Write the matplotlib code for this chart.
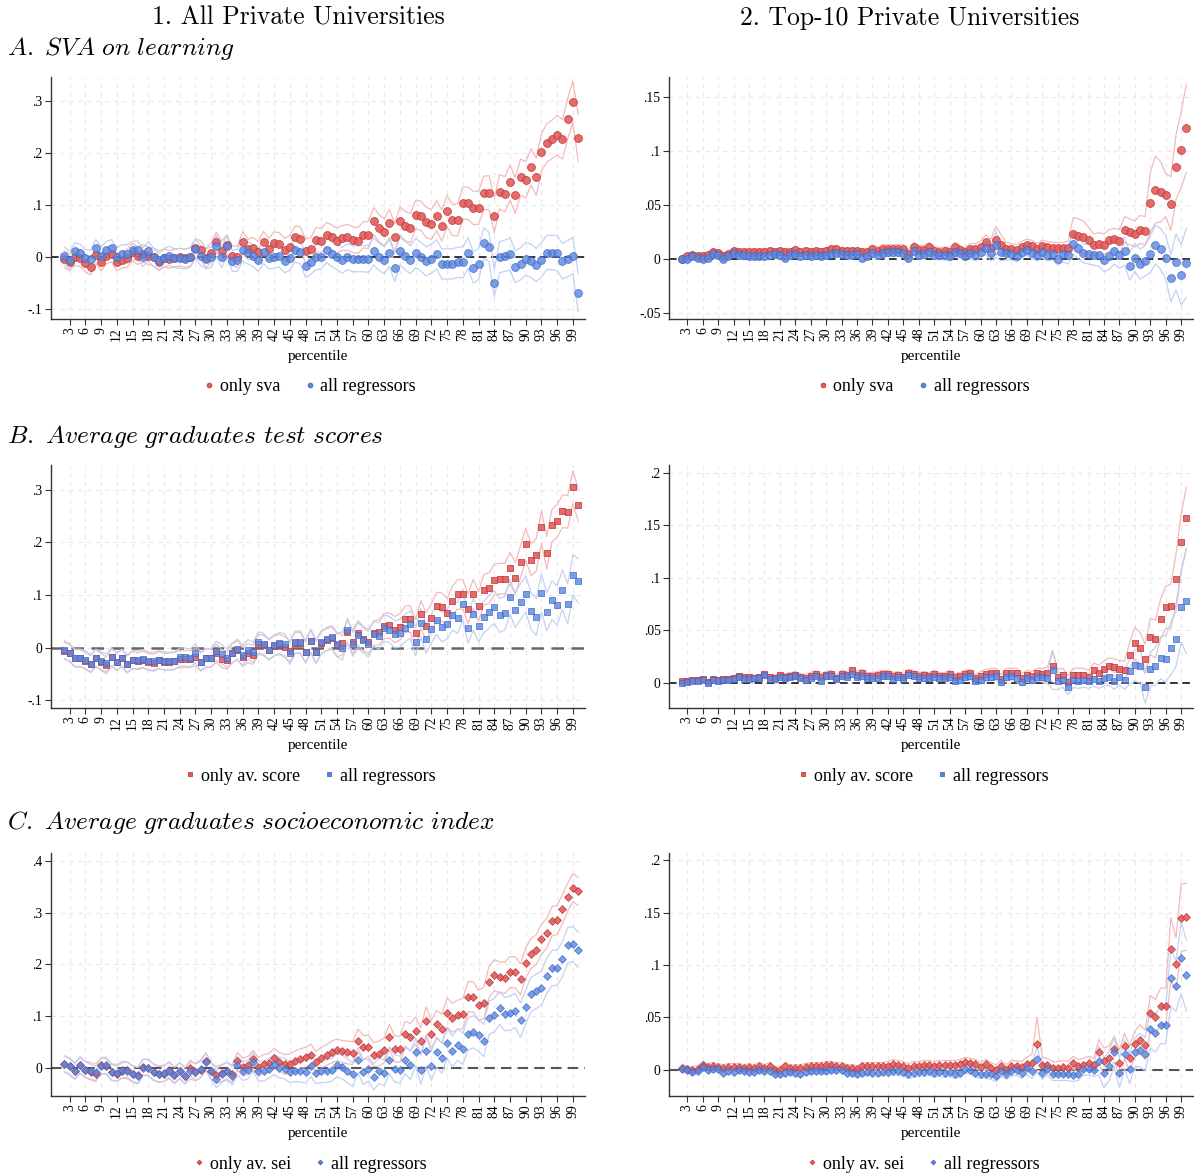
import matplotlib
matplotlib.use('Agg')
import matplotlib.pyplot as plt
from matplotlib.lines import Line2D
from matplotlib.ticker import FuncFormatter

plt.rcParams['font.family'] = ['Liberation Serif', 'DejaVu Serif']
plt.rcParams['mathtext.fontset'] = 'cm'
plt.rcParams['axes.unicode_minus'] = False

# percentiles 2..100
pct = list(range(2, 101))

# ---- A. SVA on learning ----
a1_sva = [
    -0.004, -0.01, 0.0, -0.002, -0.012, -0.018, 0.004, -0.01, 0.003, 0.007,
    -0.01, -0.005, -0.002, 0.01, 0.003, 0.007, 0.003, 0.0, -0.009, -0.002,
    -0.004, -0.002, 0.0, -0.002, 0.0, 0.017, 0.014, -0.002, 0.009, 0.029,
    0.012, 0.024, 0.003, 0.001, 0.03, 0.015, 0.018, 0.01, 0.029, 0.015,
    0.028, 0.026, 0.014, 0.02, 0.038, 0.036, 0.012, 0.015, 0.034, 0.032,
    0.043, 0.038, 0.032, 0.037, 0.038, 0.034, 0.032, 0.043, 0.043, 0.07,
    0.056, 0.048, 0.065, 0.038, 0.07, 0.06, 0.056, 0.082, 0.08, 0.067,
    0.063, 0.08, 0.061, 0.089, 0.072, 0.072, 0.104, 0.104, 0.095, 0.095,
    0.124, 0.124, 0.08, 0.126, 0.121, 0.144, 0.119, 0.154, 0.149, 0.174,
    0.155, 0.202, 0.22, 0.227, 0.235, 0.227, 0.267, 0.299, 0.23]
a1_all = [
    0.003, -0.006, 0.011, 0.008, -0.002, -0.004, 0.017, 0.003, 0.013, 0.017,
    0.001, 0.006, 0.006, 0.013, 0.013, 0.0, 0.012, 0.0, -0.005, -0.002,
    0.003, -0.002, -0.002, -0.004, 0.0, 0.016, 0.003, -0.003, 0.0, 0.022,
    0.0, 0.022, -0.007, -0.006, 0.014, 0.008, 0.003, -0.006, 0.01, -0.001,
    0.001, 0.003, -0.008, -0.002, 0.014, 0.01, -0.016, -0.01, 0.0, 0.001,
    0.014, 0.006, 0.0, -0.006, 0.001, -0.003, -0.003, -0.003, -0.003, 0.011,
    0.001, -0.006, 0.008, -0.02, 0.012, 0.003, -0.005, 0.008, 0.001, -0.008,
    -0.003, 0.006, -0.013, -0.013, -0.013, -0.01, -0.01, 0.008, -0.02, -0.013,
    0.027, 0.02, -0.05, 0.0, 0.003, 0.006, -0.018, -0.013, -0.003, -0.007,
    -0.015, -0.005, 0.009, 0.009, 0.008, -0.008, -0.003, 0.003, -0.068]
a1_sva_hw = [
    .016, .016, .016, .016, .016, .016, .016, .016, .016, .016,
    .016, .016, .017, .017, .017, .017, .017, .017, .017, .017,
    .017, .017, .017, .017, .018, .018, .018, .018, .019, .019,
    .019, .019, .019, .020, .020, .020, .020, .020, .021, .021,
    .021, .021, .022, .022, .022, .022, .023, .023, .023, .023,
    .024, .024, .024, .024, .025, .025, .025, .025, .026, .026,
    .026, .026, .027, .027, .027, .028, .028, .028, .028, .029,
    .029, .029, .030, .030, .030, .031, .031, .031, .032, .032,
    .032, .033, .033, .033, .034, .034, .034, .035, .035, .035,
    .036, .036, .037, .037, .038, .038, .039, .040, .045]
a1_all_hw = [
    .017, .017, .017, .017, .017, .017, .017, .017, .017, .017,
    .017, .018, .018, .018, .018, .018, .018, .018, .018, .018,
    .018, .018, .019, .019, .019, .019, .019, .019, .020, .020,
    .020, .020, .020, .021, .021, .021, .021, .021, .022, .022,
    .022, .022, .022, .023, .023, .023, .023, .023, .024, .024,
    .024, .024, .024, .025, .025, .025, .025, .025, .026, .026,
    .026, .026, .026, .027, .027, .027, .027, .028, .028, .028,
    .028, .028, .029, .029, .029, .029, .030, .030, .030, .030,
    .030, .028, .026, .030, .030, .031, .031, .031, .032, .032,
    .032, .033, .033, .033, .034, .034, .035, .035, .037]

a2_sva = [
    0.0, 0.002, 0.003, 0.002, 0.002, 0.003, 0.006, 0.005, 0.002, 0.004,
    0.007, 0.006, 0.006, 0.006, 0.006, 0.006, 0.006, 0.007, 0.006, 0.007,
    0.006, 0.006, 0.008, 0.006, 0.007, 0.006, 0.007, 0.006, 0.007, 0.009,
    0.009, 0.007, 0.007, 0.007, 0.007, 0.006, 0.006, 0.009, 0.007, 0.009,
    0.009, 0.009, 0.009, 0.009, 0.004, 0.011, 0.008, 0.008, 0.011, 0.007,
    0.006, 0.007, 0.006, 0.011, 0.008, 0.006, 0.009, 0.009, 0.011, 0.015,
    0.01, 0.017, 0.013, 0.009, 0.009, 0.008, 0.011, 0.013, 0.012, 0.009,
    0.012, 0.011, 0.01, 0.01, 0.01, 0.01, 0.023, 0.021, 0.02, 0.017,
    0.013, 0.014, 0.013, 0.017, 0.018, 0.016, 0.027, 0.025, 0.023, 0.027,
    0.026, 0.052, 0.064, 0.062, 0.059, 0.051, 0.085, 0.101, 0.121]
a2_all = [
    0.0, 0.0, 0.002, 0.001, 0.0, 0.001, 0.004, 0.003, 0.0, 0.002,
    0.005, 0.003, 0.003, 0.002, 0.002, 0.002, 0.002, 0.003, 0.004, 0.003,
    0.001, 0.003, 0.004, 0.002, 0.003, 0.002, 0.003, 0.002, 0.003, 0.004,
    0.005, 0.004, 0.003, 0.003, 0.004, 0.001, 0.002, 0.005, 0.003, 0.005,
    0.006, 0.006, 0.006, 0.005, 0.001, 0.007, 0.003, 0.004, 0.006, 0.003,
    0.003, 0.003, 0.002, 0.006, 0.005, 0.002, 0.005, 0.003, 0.006, 0.01,
    0.005, 0.013, 0.006, 0.005, 0.004, 0.002, 0.006, 0.008, 0.005, 0.003,
    0.006, 0.003, 0.004, 0.0, 0.004, 0.003, 0.014, 0.01, 0.005, 0.004,
    0.003, 0.003, -0.001, 0.002, 0.007, 0.003, 0.007, -0.007, 0.001, -0.005,
    -0.002, 0.004, 0.013, 0.009, 0.001, -0.018, -0.003, -0.015, -0.004]
a2_sva_hw = [
    .003, .003, .003, .003, .003, .003, .003, .003, .003, .003,
    .003, .003, .003, .003, .003, .003, .003, .003, .003, .003,
    .003, .003, .003, .003, .003, .003, .003, .003, .003, .003,
    .003, .003, .003, .003, .003, .003, .003, .003, .004, .004,
    .004, .004, .004, .004, .004, .004, .004, .004, .004, .004,
    .004, .004, .004, .004, .004, .004, .005, .005, .005, .007,
    .008, .013, .009, .006, .005, .005, .005, .005, .005, .005,
    .005, .005, .005, .005, .005, .006, .015, .016, .015, .012,
    .010, .010, .010, .010, .010, .011, .012, .012, .012, .013,
    .013, .028, .031, .028, .020, .025, .030, .035, .041]
a2_all_hw = [
    .003, .003, .003, .003, .003, .003, .003, .003, .003, .003,
    .003, .003, .003, .003, .003, .003, .003, .003, .003, .003,
    .003, .003, .003, .003, .003, .003, .003, .003, .003, .003,
    .003, .003, .003, .003, .003, .003, .003, .003, .004, .004,
    .004, .004, .004, .004, .004, .004, .004, .004, .004, .004,
    .004, .004, .004, .004, .004, .004, .005, .005, .005, .006,
    .007, .012, .008, .006, .005, .005, .005, .005, .005, .005,
    .005, .005, .005, .006, .007, .008, .010, .010, .009, .009,
    .009, .010, .011, .012, .012, .012, .013, .013, .013, .014,
    .014, .017, .018, .019, .020, .022, .026, .028, .032]

# ---- B. Average graduates test scores ----
b1_score = [
    -0.006, -0.01, -0.02, -0.02, -0.025, -0.031, -0.02, -0.027, -0.034, -0.018,
    -0.027, -0.02, -0.032, -0.023, -0.026, -0.023, -0.027, -0.029, -0.024, -0.027,
    -0.027, -0.025, -0.022, -0.022, -0.022, -0.018, -0.027, -0.02, -0.02, -0.011,
    -0.021, -0.024, -0.011, -0.005, -0.018, -0.011, -0.014, 0.006, 0.004, -0.004,
    0.003, 0.006, 0.001, -0.007, 0.009, 0.009, -0.009, 0.012, -0.009, 0.009,
    0.015, 0.018, 0.004, 0.008, 0.03, 0.01, 0.028, 0.017, 0.011, 0.027,
    0.029, 0.041, 0.042, 0.034, 0.039, 0.054, 0.054, 0.027, 0.063, 0.04,
    0.057, 0.078, 0.077, 0.066, 0.089, 0.101, 0.101, 0.074, 0.102, 0.078,
    0.11, 0.113, 0.129, 0.131, 0.131, 0.151, 0.132, 0.163, 0.196, 0.167,
    0.176, 0.229, 0.18, 0.232, 0.241, 0.259, 0.258, 0.305, 0.271]
b1_all = [
    -0.004, -0.01, -0.02, -0.02, -0.023, -0.031, -0.02, -0.025, -0.029, -0.018,
    -0.027, -0.02, -0.031, -0.023, -0.023, -0.021, -0.026, -0.026, -0.023, -0.025,
    -0.026, -0.025, -0.018, -0.018, -0.02, -0.011, -0.027, -0.02, -0.02, -0.006,
    -0.013, -0.02, -0.011, -0.003, -0.015, -0.004, -0.009, 0.01, 0.007, -0.004,
    0.004, 0.008, 0.006, -0.011, 0.01, 0.011, -0.008, 0.013, -0.008, 0.01,
    0.016, 0.02, 0.006, -0.001, 0.033, 0.006, 0.023, 0.014, 0.006, 0.026,
    0.022, 0.037, 0.034, 0.025, 0.027, 0.037, 0.044, 0.011, 0.047, 0.016,
    0.036, 0.053, 0.039, 0.044, 0.061, 0.056, 0.082, 0.037, 0.063, 0.041,
    0.058, 0.068, 0.077, 0.061, 0.065, 0.096, 0.071, 0.087, 0.102, 0.07,
    0.058, 0.104, 0.068, 0.09, 0.08, 0.11, 0.083, 0.138, 0.127]
b1_score_hw = [
    .016, .016, .016, .016, .016, .016, .016, .016, .016, .016,
    .016, .016, .016, .016, .016, .016, .016, .016, .016, .016,
    .016, .016, .016, .016, .016, .017, .017, .017, .017, .017,
    .017, .017, .018, .018, .018, .018, .018, .019, .019, .019,
    .019, .019, .020, .020, .020, .020, .020, .021, .021, .021,
    .021, .021, .022, .022, .022, .022, .023, .023, .023, .023,
    .024, .024, .024, .025, .025, .025, .025, .026, .026, .026,
    .026, .027, .027, .027, .027, .028, .028, .028, .028, .028,
    .029, .029, .029, .029, .029, .030, .030, .030, .030, .030,
    .031, .031, .031, .031, .031, .031, .031, .031, .031]
b1_all_hw = [
    .017, .017, .017, .017, .017, .017, .017, .017, .017, .017,
    .017, .017, .017, .017, .017, .017, .017, .017, .017, .017,
    .017, .017, .017, .017, .017, .018, .018, .018, .018, .018,
    .018, .018, .019, .019, .019, .019, .019, .020, .020, .020,
    .020, .020, .021, .021, .021, .021, .021, .022, .022, .022,
    .022, .022, .023, .023, .023, .023, .024, .024, .024, .024,
    .025, .025, .025, .026, .026, .026, .026, .027, .027, .027,
    .027, .028, .028, .028, .028, .029, .029, .029, .030, .030,
    .030, .031, .031, .032, .032, .033, .033, .034, .034, .035,
    .035, .036, .036, .037, .037, .038, .038, .038, .042]

b2_score = [
    0.002, 0.002, 0.003, 0.003, 0.004, 0.001, 0.004, 0.003, 0.004, 0.004,
    0.005, 0.007, 0.006, 0.006, 0.005, 0.006, 0.009, 0.006, 0.005, 0.008,
    0.006, 0.007, 0.008, 0.006, 0.005, 0.007, 0.009, 0.006, 0.008, 0.009,
    0.005, 0.009, 0.008, 0.012, 0.008, 0.01, 0.007, 0.007, 0.008, 0.009,
    0.009, 0.007, 0.008, 0.006, 0.01, 0.009, 0.007, 0.008, 0.007, 0.009,
    0.007, 0.007, 0.009, 0.006, 0.007, 0.009, 0.01, 0.005, 0.007, 0.009,
    0.01, 0.01, 0.004, 0.01, 0.01, 0.01, 0.005, 0.008, 0.007, 0.01,
    0.009, 0.01, 0.016, 0.006, 0.008, 0.001, 0.008, 0.008, 0.008, 0.006,
    0.012, 0.01, 0.013, 0.016, 0.015, 0.013, 0.012, 0.027, 0.038, 0.033,
    0.023, 0.044, 0.042, 0.061, 0.072, 0.073, 0.099, 0.134, 0.157]
b2_all = [
    0.0, 0.001, 0.002, 0.002, 0.003, 0.0, 0.003, 0.002, 0.003, 0.003,
    0.004, 0.006, 0.004, 0.004, 0.005, 0.005, 0.008, 0.004, 0.004, 0.006,
    0.005, 0.006, 0.007, 0.005, 0.003, 0.005, 0.007, 0.002, 0.007, 0.007,
    0.004, 0.007, 0.006, 0.009, 0.006, 0.007, 0.005, 0.005, 0.005, 0.007,
    0.007, 0.004, 0.006, 0.004, 0.008, 0.007, 0.005, 0.005, 0.005, 0.006,
    0.005, 0.005, 0.006, 0.002, 0.003, 0.006, 0.007, 0.002, 0.003, 0.006,
    0.006, 0.007, 0.001, 0.006, 0.007, 0.005, 0.001, 0.005, 0.003, 0.006,
    0.006, 0.005, 0.012, 0.002, 0.003, -0.004, 0.003, 0.002, 0.003, 0.002,
    0.004, 0.002, 0.005, 0.006, 0.002, 0.006, 0.003, 0.011, 0.017, 0.016,
    -0.004, 0.013, 0.016, 0.024, 0.023, 0.033, 0.042, 0.072, 0.078]
b2_score_hw = [
    .002, .002, .002, .002, .002, .002, .002, .002, .002, .002,
    .002, .002, .002, .002, .002, .002, .002, .002, .002, .002,
    .003, .003, .003, .003, .003, .003, .003, .003, .003, .003,
    .003, .003, .003, .003, .003, .003, .003, .003, .003, .003,
    .003, .003, .003, .003, .003, .003, .003, .003, .003, .003,
    .003, .003, .003, .003, .003, .003, .003, .003, .004, .004,
    .004, .004, .004, .004, .004, .004, .004, .004, .004, .004,
    .005, .005, .015, .007, .006, .006, .006, .006, .006, .006,
    .007, .007, .008, .008, .008, .008, .009, .012, .015, .015,
    .014, .017, .018, .019, .020, .021, .024, .027, .029]
b2_all_hw = [
    .002, .002, .002, .002, .002, .002, .002, .002, .002, .002,
    .002, .002, .002, .002, .002, .002, .002, .002, .002, .002,
    .003, .003, .003, .003, .003, .003, .003, .003, .003, .003,
    .003, .003, .003, .003, .003, .003, .003, .003, .003, .003,
    .003, .003, .003, .003, .003, .003, .003, .003, .003, .003,
    .003, .003, .003, .003, .003, .003, .003, .003, .004, .004,
    .004, .004, .004, .004, .004, .004, .004, .004, .004, .004,
    .005, .005, .018, .008, .007, .007, .007, .007, .007, .007,
    .007, .007, .008, .008, .008, .008, .009, .012, .015, .016,
    .015, .016, .018, .020, .022, .025, .026, .033, .050]

# ---- C. Average graduates socioeconomic index ----
c1_sei = [
    0.008, 0.003, -0.006, 0.005, -0.003, -0.008, -0.011, 0.005, 0.003, -0.008,
    -0.011, -0.005, -0.003, -0.011, -0.014, 0.002, 0.001, -0.008, -0.012, -0.011,
    -0.003, -0.014, -0.005, -0.015, 0.0, -0.008, -0.003, 0.013, -0.006, -0.013,
    -0.01, -0.005, -0.011, 0.013, 0.002, 0.005, 0.017, 0.002, 0.008, 0.01,
    0.02, 0.012, 0.007, 0.008, 0.014, 0.018, 0.021, 0.026, 0.012, 0.02,
    0.025, 0.031, 0.035, 0.032, 0.03, 0.029, 0.053, 0.04, 0.04, 0.026,
    0.028, 0.034, 0.06, 0.037, 0.036, 0.065, 0.06, 0.072, 0.052, 0.091,
    0.065, 0.084, 0.076, 0.107, 0.097, 0.103, 0.105, 0.138, 0.137, 0.121,
    0.126, 0.166, 0.179, 0.175, 0.174, 0.185, 0.185, 0.171, 0.203, 0.221,
    0.228, 0.249, 0.26, 0.283, 0.286, 0.307, 0.33, 0.348, 0.341]
c1_all = [
    0.008, 0.003, -0.006, 0.006, -0.003, -0.005, -0.008, 0.004, 0.005, -0.008,
    -0.009, -0.003, -0.005, -0.011, -0.015, 0.001, 0.001, -0.008, -0.012, -0.01,
    -0.005, -0.014, -0.005, -0.015, -0.005, -0.008, -0.001, 0.012, -0.006, -0.021,
    -0.011, -0.006, -0.015, 0.005, -0.006, -0.003, 0.012, -0.006, -0.006, -0.001,
    0.007, 0.001, -0.001, -0.008, -0.006, -0.006, -0.008, 0.004, -0.009, -0.006,
    -0.006, -0.003, 0.005, 0.002, -0.006, -0.012, 0.015, -0.008, -0.001, -0.017,
    -0.005, -0.009, 0.015, -0.001, -0.003, 0.016, 0.005, 0.031, -0.003, 0.032,
    0.004, 0.031, 0.019, 0.048, 0.032, 0.045, 0.037, 0.066, 0.07, 0.063,
    0.053, 0.097, 0.102, 0.116, 0.104, 0.106, 0.111, 0.092, 0.118, 0.142,
    0.148, 0.154, 0.178, 0.193, 0.194, 0.21, 0.237, 0.239, 0.228]
c1_sei_hw = [
    .015, .015, .015, .015, .015, .015, .015, .015, .015, .015,
    .015, .015, .015, .015, .015, .015, .015, .015, .015, .015,
    .015, .015, .015, .015, .015, .016, .016, .016, .016, .016,
    .016, .016, .017, .017, .017, .017, .017, .018, .018, .018,
    .018, .018, .019, .019, .019, .019, .019, .020, .020, .020,
    .020, .021, .021, .021, .022, .022, .022, .023, .023, .023,
    .024, .024, .024, .025, .025, .025, .026, .026, .026, .027,
    .027, .027, .028, .028, .028, .028, .029, .029, .029, .029,
    .030, .030, .030, .030, .030, .030, .030, .030, .029, .029,
    .029, .029, .029, .028, .028, .028, .027, .027, .027]
c1_all_hw = [
    .016, .016, .016, .016, .016, .016, .016, .016, .016, .016,
    .016, .016, .016, .016, .016, .016, .016, .016, .016, .016,
    .016, .016, .016, .016, .016, .017, .017, .017, .017, .017,
    .017, .017, .018, .018, .018, .018, .018, .019, .019, .019,
    .019, .020, .020, .020, .020, .021, .021, .021, .021, .022,
    .022, .022, .022, .023, .023, .023, .024, .024, .024, .025,
    .025, .025, .026, .026, .026, .027, .027, .027, .028, .028,
    .028, .029, .029, .029, .030, .030, .030, .031, .031, .031,
    .031, .032, .032, .032, .032, .033, .033, .033, .033, .033,
    .033, .033, .034, .034, .034, .034, .034, .034, .034]

c2_sei = [
    0.002, 0.001, 0.0, 0.001, 0.005, 0.003, 0.004, 0.003, 0.002, 0.003,
    0.003, 0.003, 0.002, 0.003, 0.002, 0.004, 0.002, 0.004, 0.0, 0.0,
    0.004, 0.002, 0.002, 0.002, 0.003, 0.004, 0.004, 0.004, 0.005, 0.005,
    0.004, 0.004, 0.002, 0.002, 0.001, 0.004, 0.004, 0.004, 0.004, 0.004,
    0.004, 0.006, 0.005, 0.004, 0.002, 0.004, 0.004, 0.005, 0.005, 0.004,
    0.005, 0.005, 0.005, 0.005, 0.006, 0.008, 0.007, 0.006, 0.003, 0.006,
    0.002, 0.0, 0.004, 0.0, 0.004, 0.004, 0.003, 0.006, 0.007, 0.025,
    0.005, 0.005, 0.002, 0.002, 0.003, 0.002, 0.007, 0.004, 0.005, 0.007,
    0.005, 0.017, 0.009, 0.011, 0.02, 0.007, 0.023, 0.011, 0.025, 0.029,
    0.024, 0.054, 0.05, 0.061, 0.061, 0.115, 0.101, 0.145, 0.146]
c2_all = [
    0.001, 0.0, -0.002, -0.001, 0.003, 0.0, 0.001, 0.001, -0.003, -0.001,
    -0.002, 0.0, -0.001, -0.002, -0.002, 0.0, -0.001, -0.001, -0.004, -0.004,
    -0.003, -0.002, -0.003, -0.004, -0.002, -0.001, -0.001, -0.001, -0.001, 0.0,
    0.0, 0.0, -0.003, -0.003, -0.004, -0.003, -0.002, -0.003, -0.003, -0.002,
    -0.002, -0.001, -0.001, -0.002, -0.004, -0.003, -0.002, -0.002, -0.001, -0.003,
    -0.002, -0.003, -0.002, -0.004, -0.003, 0.001, 0.0, -0.003, -0.004, -0.004,
    -0.004, -0.006, -0.001, -0.004, -0.001, 0.0, -0.003, 0.002, -0.001, 0.01,
    -0.003, 0.001, -0.004, -0.004, -0.004, -0.004, -0.005, -0.004, 0.001, 0.001,
    0.0, 0.009, -0.003, 0.004, 0.017, -0.003, 0.015, 0.001, 0.017, 0.019,
    0.015, 0.039, 0.035, 0.043, 0.043, 0.088, 0.08, 0.107, 0.09]
c2_sei_hw = [
    .003, .003, .003, .003, .003, .003, .003, .003, .003, .003,
    .003, .003, .003, .003, .003, .003, .003, .003, .003, .003,
    .003, .003, .003, .003, .003, .003, .003, .003, .003, .003,
    .003, .003, .003, .003, .003, .003, .003, .003, .003, .003,
    .004, .004, .004, .004, .004, .004, .004, .004, .004, .004,
    .004, .004, .004, .004, .004, .004, .004, .004, .004, .004,
    .005, .005, .005, .005, .005, .005, .005, .006, .008, .025,
    .007, .006, .006, .006, .006, .006, .006, .006, .006, .006,
    .006, .012, .012, .012, .012, .012, .012, .012, .012, .014,
    .014, .017, .017, .017, .017, .030, .025, .032, .032]
c2_all_hw = [
    .003, .003, .003, .003, .003, .003, .003, .003, .003, .003,
    .003, .003, .003, .003, .003, .003, .003, .003, .003, .003,
    .003, .003, .003, .003, .003, .003, .003, .003, .003, .003,
    .003, .003, .003, .003, .003, .003, .003, .003, .003, .003,
    .004, .004, .004, .004, .004, .004, .004, .004, .004, .004,
    .004, .004, .004, .004, .004, .004, .004, .004, .004, .004,
    .005, .005, .005, .005, .005, .005, .005, .006, .007, .012,
    .006, .006, .006, .006, .006, .006, .006, .006, .006, .006,
    .006, .014, .014, .014, .014, .014, .014, .014, .014, .016,
    .016, .018, .018, .018, .018, .028, .024, .034, .034]

col_titles = ['1. All Private Universities', '2. Top-10 Private Universities']
row_titles = [r'$\mathit{A.\ SVA\ on\ learning}$',
              r'$\mathit{B.\ Average\ graduates\ test\ scores}$',
              r'$\mathit{C.\ Average\ graduates\ socioeconomic\ index}$']
red_labels = ['only sva', 'only av. score', 'only av. sei']
blue_label = 'all regressors'

RED_FACE, RED_EDGE, RED_CI = '#e25c5c', '#c23a3a', '#f3b3b3'
BLUE_FACE, BLUE_EDGE, BLUE_CI = '#5a86e0', '#3c68c8', '#bccdf2'

W, H = 1194, 1173
fig = plt.figure(figsize=(W / 100, H / 100), dpi=100)

col_left = [51 / W, 669 / W]
col_width = [534 / W, 524 / W]
row_bottom = [1 - 319 / H, 1 - 708 / H, 1 - 1096 / H]
row_height = [242 / H, 243 / H, 243 / H]


def short_num(v, pos):
    if abs(v) < 1e-9:
        return '0'
    s = ('%g' % round(v, 3))
    return s.replace('-0.', '-.').replace('0.', '.')


def draw_panel(ax, red, red_hw, blue, blue_hw, marker, msize, red_label,
               yticks, ylim, zero_color, zero_lw):
    lo_r = [v - h for v, h in zip(red, red_hw)]
    hi_r = [v + h for v, h in zip(red, red_hw)]
    lo_b = [v - h for v, h in zip(blue, blue_hw)]
    hi_b = [v + h for v, h in zip(blue, blue_hw)]

    ax.axhline(0, color=zero_color, lw=zero_lw, ls=(0, (5, 3)), zorder=2)
    for series, col in ((lo_r, RED_CI), (hi_r, RED_CI), (lo_b, BLUE_CI), (hi_b, BLUE_CI)):
        ax.plot(pct, series, color=col, lw=0.9, alpha=0.9, zorder=3)
    ax.scatter(pct, red, s=msize, marker=marker, c=RED_FACE, edgecolors=RED_EDGE,
               linewidths=0.6, alpha=0.9, zorder=4)
    ax.scatter(pct, blue, s=msize, marker=marker, c=BLUE_FACE, edgecolors=BLUE_EDGE,
               linewidths=0.6, alpha=0.8, zorder=5)

    ax.set_xlim(-0.55, 101.3)
    ax.set_ylim(*ylim)
    ax.set_xticks(range(3, 100, 3))
    ax.set_xticklabels([str(t) for t in range(3, 100, 3)], rotation=90)
    ax.set_yticks(yticks)
    ax.yaxis.set_major_formatter(FuncFormatter(short_num))
    ax.grid(True, color='#e9e9e9', ls=(0, (4, 4)), lw=0.8, zorder=0)
    ax.set_axisbelow(True)
    for side in ('top', 'right'):
        ax.spines[side].set_visible(False)
    for side in ('left', 'bottom'):
        ax.spines[side].set_color('#333333')
        ax.spines[side].set_linewidth(1.0)
    ax.tick_params(axis='both', direction='out', length=4, width=0.8,
                   color='#333333', labelsize=9.8, pad=2)

    ax.set_xlabel('percentile', fontsize=11)
    ax.xaxis.set_label_coords(0.5, -0.128)

    handles = [
        Line2D([], [], ls='', marker=marker, ms=msize ** 0.5 * 0.6, mfc=RED_FACE,
               mec=RED_EDGE, mew=0.6, label=red_label),
        Line2D([], [], ls='', marker=marker, ms=msize ** 0.5 * 0.6, mfc=BLUE_FACE,
               mec=BLUE_EDGE, mew=0.6, label=blue_label),
    ]
    ax.legend(handles=handles, loc='center', bbox_to_anchor=(0.485, -0.28), ncol=2,
              frameon=False, fontsize=13, handlelength=0.6, handletextpad=0.3,
              columnspacing=1.3)


panels = [
    # row, col, red, red_hw, blue, blue_hw, marker, size, yticks, ylim, zero color, zero lw
    (0, 0, a1_sva, a1_sva_hw, a1_all, a1_all_hw, 'o', 32,
     [-0.1, 0, 0.1, 0.2, 0.3], (-0.119, 0.347), 'black', 1.1),
    (0, 1, a2_sva, a2_sva_hw, a2_all, a2_all_hw, 'o', 32,
     [-0.05, 0, 0.05, 0.1, 0.15], (-0.056, 0.1685), 'black', 1.1),
    (1, 0, b1_score, b1_score_hw, b1_all, b1_all_hw, 's', 18,
     [-0.1, 0, 0.1, 0.2, 0.3], (-0.115, 0.347), '#666666', 1.8),
    (1, 1, b2_score, b2_score_hw, b2_all, b2_all_hw, 's', 18,
     [0, 0.05, 0.1, 0.15, 0.2], (-0.0237, 0.2073), 'black', 1.1),
    (2, 0, c1_sei, c1_sei_hw, c1_all, c1_all_hw, 'D', 16,
     [0, 0.1, 0.2, 0.3, 0.4], (-0.054, 0.415), '#555555', 1.5),
    (2, 1, c2_sei, c2_sei_hw, c2_all, c2_all_hw, 'D', 16,
     [0, 0.05, 0.1, 0.15, 0.2], (-0.0248, 0.2067), '#555555', 1.5),
]

for r, c, red, red_hw, blue, blue_hw, mk, ms, yt, yl, zc, zlw in panels:
    ax = fig.add_axes([col_left[c], row_bottom[r], col_width[c], row_height[r]])
    draw_panel(ax, red, red_hw, blue, blue_hw, mk, ms, red_labels[r], yt, yl, zc, zlw)

# column headers and panel titles
fig.text(298 / W, 1 - 18 / H, col_titles[0], ha='center', va='center',
         fontsize=18.5, family='cmr10')
fig.text(910 / W, 1 - 18 / H, col_titles[1], ha='center', va='center',
         fontsize=18.5, family='cmr10')
for r, y in zip(range(3), (48, 436, 823)):
    fig.text(7 / W, 1 - y / H, row_titles[r], ha='left', va='center', fontsize=18.3)

fig.savefig('out.png', dpi=100)
